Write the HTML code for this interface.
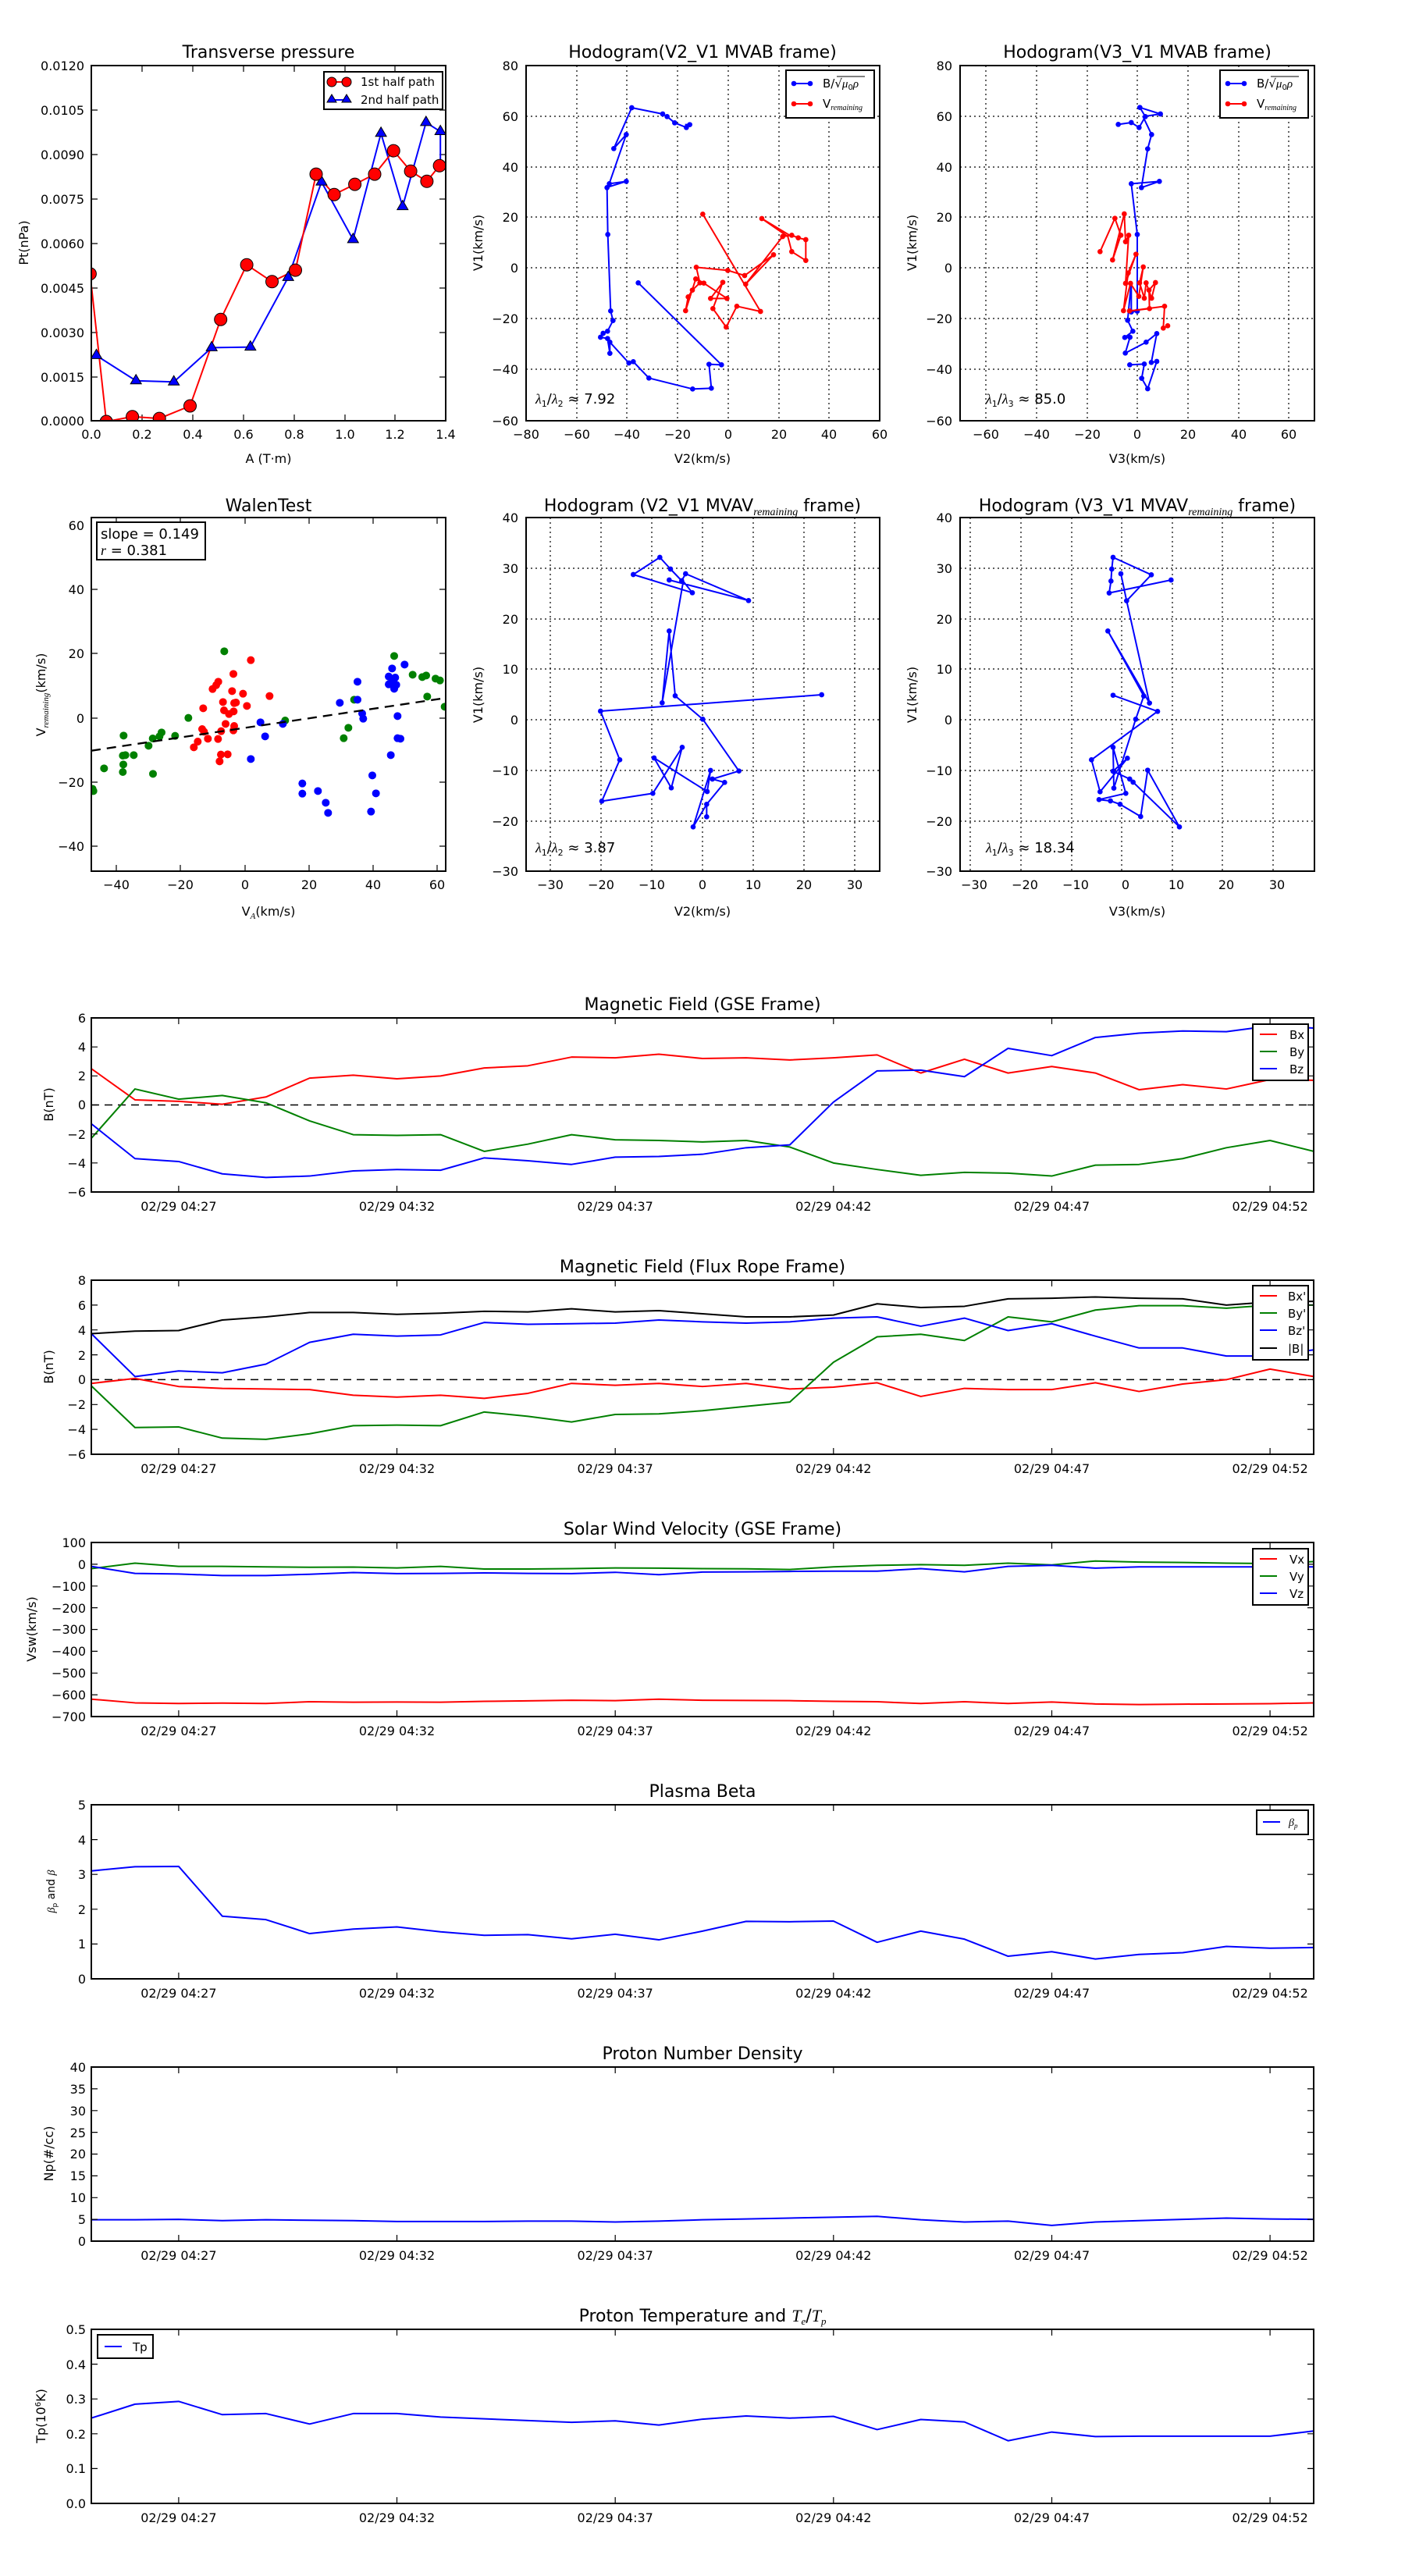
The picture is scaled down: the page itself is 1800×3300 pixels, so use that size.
<!DOCTYPE html>
<html><head><meta charset="utf-8"><style>
html,body{margin:0;padding:0;background:#fff;}
svg{display:block;font-family:"DejaVu Sans","Liberation Sans",sans-serif;}
.t{font-size:22px;text-anchor:middle;}
.k{font-size:16px;}
.r{text-anchor:end;}
.m{text-anchor:middle;}
.fr{fill:none;stroke:#000;stroke-width:2;}
.tk{stroke:#000;stroke-width:1.2;fill:none;}
.gr{stroke:#000;stroke-width:1.2;stroke-dasharray:2,4;fill:none;}
.ln{fill:none;stroke-width:2;vector-effect:non-scaling-stroke;stroke-linejoin:round;}
.lg{font-size:15px;}
</style></head><body>
<svg width="1800" height="3300" viewBox="0 0 1800 3300" xmlns="http://www.w3.org/2000/svg">
<rect width="1800" height="3300" fill="#fff"/>

<!-- ============ Transverse pressure ============ -->
<text class="t" x="344" y="74">Transverse pressure</text>
<path class="tk" d="M117 141h8M117 198h8M117 255h8M117 312h8M117 369h8M117 426h8M117 483h8M571 141h-8M571 198h-8M571 255h-8M571 312h-8M571 369h-8M571 426h-8M571 483h-8M182 84v8M247 84v8M312 84v8M377 84v8M442 84v8M506 84v8M182 539v-8M247 539v-8M312 539v-8M377 539v-8M442 539v-8M506 539v-8"/>
<g class="k r">
<text x="108" y="90">0.0120</text><text x="108" y="147">0.0105</text><text x="108" y="204">0.0090</text><text x="108" y="261">0.0075</text><text x="108" y="318">0.0060</text><text x="108" y="375">0.0045</text><text x="108" y="432">0.0030</text><text x="108" y="489">0.0015</text><text x="108" y="545">0.0000</text>
</g>
<g class="k m">
<text x="117" y="562">0.0</text><text x="182" y="562">0.2</text><text x="247" y="562">0.4</text><text x="312" y="562">0.6</text><text x="377" y="562">0.8</text><text x="442" y="562">1.0</text><text x="506" y="562">1.2</text><text x="571" y="562">1.4</text>
<text x="344" y="593">A (T·m)</text>
</g>
<text class="k m" transform="translate(36,311) rotate(-90)">Pt(nPa)</text>
<svg x="117" y="84" width="454" height="455" overflow="hidden">
<g transform="translate(-117,-84)">
<polyline fill="none" stroke="#00f" stroke-width="2" points="123.5,455.4 174.2,487.7 222.7,489.2 271.2,445.4 320.8,444.6 369.2,355.4 411.9,233.1 452.3,306.9 488.1,170.8 515.8,264.6 545.8,156.9 564.2,168.5 564.2,212.3"/>
<polyline fill="none" stroke="#f00" stroke-width="2" points="115.4,350.8 136.2,540 169.6,533.8 204.2,536.1 243.5,520 282.7,409.2 316.1,339.2 348.5,360.8 378.5,346.1 405,223.1 428.1,249.2 454.6,236.1 480,223.1 504.2,193.1 526.1,219.2 546.9,232.3 563.1,212.3"/>
<g fill="#00f" stroke="#000" stroke-width="1">
<path d="M123.5 447.4l7 12h-14z"/><path d="M174.2 479.7l7 12h-14z"/><path d="M222.7 481.2l7 12h-14z"/><path d="M271.2 437.4l7 12h-14z"/><path d="M320.8 436.6l7 12h-14z"/><path d="M369.2 347.4l7 12h-14z"/><path d="M411.9 225.1l7 12h-14z"/><path d="M452.3 298.9l7 12h-14z"/><path d="M488.1 162.8l7 12h-14z"/><path d="M515.8 256.6l7 12h-14z"/><path d="M545.8 148.9l7 12h-14z"/><path d="M564.2 160.5l7 12h-14z"/><path d="M564.2 204.3l7 12h-14z"/>
</g>
<g fill="#f00" stroke="#000" stroke-width="1">
<circle cx="115.4" cy="350.8" r="8"/><circle cx="136.2" cy="540" r="8"/><circle cx="169.6" cy="533.8" r="8"/><circle cx="204.2" cy="536.1" r="8"/><circle cx="243.5" cy="520" r="8"/><circle cx="282.7" cy="409.2" r="8"/><circle cx="316.1" cy="339.2" r="8"/><circle cx="348.5" cy="360.8" r="8"/><circle cx="378.5" cy="346.1" r="8"/><circle cx="405" cy="223.1" r="8"/><circle cx="428.1" cy="249.2" r="8"/><circle cx="454.6" cy="236.1" r="8"/><circle cx="480" cy="223.1" r="8"/><circle cx="504.2" cy="193.1" r="8"/><circle cx="526.1" cy="219.2" r="8"/><circle cx="546.9" cy="232.3" r="8"/><circle cx="563.1" cy="212.3" r="8"/>
</g>
</g>
</svg>
<rect class="fr" x="117" y="84" width="454" height="455"/>
<rect x="415" y="92" width="152" height="48" fill="#fff" stroke="#000" stroke-width="2"/>
<line x1="422" y1="105" x2="447" y2="105" stroke="#f00" stroke-width="2"/>
<circle cx="425" cy="105" r="6" fill="#f00" stroke="#000"/><circle cx="444" cy="105" r="6" fill="#f00" stroke="#000"/>
<line x1="422" y1="128" x2="447" y2="128" stroke="#00f" stroke-width="2"/>
<path d="M425 121l6 10h-12zM444 121l6 10h-12z" fill="#00f" stroke="#000"/>
<text class="lg" x="462" y="110">1st half path</text>
<text class="lg" x="462" y="133">2nd half path</text>

<!-- ============ Hodogram V2_V1 MVAB ============ -->
<text class="t" x="900" y="74">Hodogram(V2_V1 MVAB frame)</text>
<path class="gr" d="M739 84V539M803 84V539M868 84V539M933 84V539M998 84V539M1062 84V539M674 149H1127M674 214H1127M674 278H1127M674 343H1127M674 408H1127M674 473H1127"/>
<g class="k r"><text x="664" y="90">80</text><text x="664" y="155">60</text><text x="664" y="220">40</text><text x="664" y="284">20</text><text x="664" y="349">0</text><text x="664" y="414">−20</text><text x="664" y="479">−40</text><text x="664" y="545">−60</text></g>
<g class="k m"><text x="674" y="562">−80</text><text x="739" y="562">−60</text><text x="803" y="562">−40</text><text x="868" y="562">−20</text><text x="933" y="562">0</text><text x="998" y="562">20</text><text x="1062" y="562">40</text><text x="1127" y="562">60</text><text x="900" y="593">V2(km/s)</text></g>
<text class="k m" transform="translate(618,311) rotate(-90)">V1(km/s)</text>
<g transform="translate(676,83) scale(0.33333)">
<polyline fill="none" stroke="#00f" stroke-width="6" stroke-linejoin="round" points="425,838 745,1153 697,1151 706,1243 634,1246 466,1204 406,1141 389,1146 316,1066 316,1109 307,1052 280,1047 290,1032 307,1024 328,983 319,946 308,652 305,472 314,457 379,448 309,470 379,268 331,322 400,165 519,189 536,199 565,223 610,241 623,230 605,230"/>
<g fill="#00f"><circle cx="425" cy="838" r="10"/><circle cx="745" cy="1153" r="10"/><circle cx="697" cy="1151" r="10"/><circle cx="706" cy="1243" r="10"/><circle cx="634" cy="1246" r="10"/><circle cx="466" cy="1204" r="10"/><circle cx="406" cy="1141" r="10"/><circle cx="389" cy="1146" r="10"/><circle cx="316" cy="1066" r="10"/><circle cx="316" cy="1109" r="10"/><circle cx="307" cy="1052" r="10"/><circle cx="280" cy="1047" r="10"/><circle cx="290" cy="1032" r="10"/><circle cx="307" cy="1024" r="10"/><circle cx="328" cy="983" r="10"/><circle cx="319" cy="946" r="10"/><circle cx="308" cy="652" r="10"/><circle cx="305" cy="472" r="10"/><circle cx="314" cy="457" r="10"/><circle cx="379" cy="448" r="10"/><circle cx="379" cy="268" r="10"/><circle cx="331" cy="322" r="10"/><circle cx="400" cy="165" r="10"/><circle cx="519" cy="189" r="10"/><circle cx="536" cy="199" r="10"/><circle cx="565" cy="223" r="10"/><circle cx="610" cy="241" r="10"/><circle cx="623" cy="230" r="10"/></g>
<polyline fill="none" stroke="#f00" stroke-width="6" stroke-linejoin="round" points="673,574 895,948 804,928 763,1008 712,937 750,836 703,898 766,898 677,839 646,823 607,945 617,892 633,866 662,838 648,778 769,790 834,810 945,730 838,843 980,660 1015,655 1040,665 1069,672 1069,752 1015,718 1000,660 900,591 1015,660"/>
<g fill="#f00"><circle cx="673" cy="574" r="10"/><circle cx="895" cy="948" r="10"/><circle cx="804" cy="928" r="10"/><circle cx="763" cy="1008" r="10"/><circle cx="712" cy="937" r="10"/><circle cx="750" cy="836" r="10"/><circle cx="703" cy="898" r="10"/><circle cx="766" cy="898" r="10"/><circle cx="677" cy="839" r="10"/><circle cx="646" cy="823" r="10"/><circle cx="607" cy="945" r="10"/><circle cx="617" cy="892" r="10"/><circle cx="633" cy="866" r="10"/><circle cx="662" cy="838" r="10"/><circle cx="648" cy="778" r="10"/><circle cx="769" cy="790" r="10"/><circle cx="834" cy="810" r="10"/><circle cx="945" cy="730" r="10"/><circle cx="838" cy="843" r="10"/><circle cx="980" cy="660" r="10"/><circle cx="1015" cy="655" r="10"/><circle cx="1040" cy="665" r="10"/><circle cx="1069" cy="672" r="10"/><circle cx="1069" cy="752" r="10"/><circle cx="1015" cy="718" r="10"/><circle cx="900" cy="591" r="10"/></g>
</g>
<rect class="fr" x="674" y="84" width="453" height="455"/>
<rect x="1007" y="90" width="113" height="61" fill="#fff" stroke="#000" stroke-width="2"/>
<line x1="1017" y1="107" x2="1038" y2="107" stroke="#00f" stroke-width="2"/><circle cx="1017" cy="107" r="3.3" fill="#00f"/><circle cx="1038" cy="107" r="3.3" fill="#00f"/>
<line x1="1017" y1="133" x2="1038" y2="133" stroke="#f00" stroke-width="2"/><circle cx="1017" cy="133" r="3.3" fill="#f00"/><circle cx="1038" cy="133" r="3.3" fill="#f00"/>
<text class="lg" x="1054" y="112">B/√<tspan font-style="italic" font-family="Liberation Serif,serif">μ</tspan><tspan font-size="10" dy="3">0</tspan><tspan font-style="italic" font-family="Liberation Serif,serif" dy="-3">ρ</tspan></text>
<line x1="1072" y1="98" x2="1108" y2="98" stroke="#000" stroke-width="1"/>
<text class="lg" x="1054" y="138">V<tspan font-size="10" font-style="italic" font-family="Liberation Serif,serif" dy="3">remaining</tspan></text>
<text x="686" y="517" font-size="18"><tspan font-family="Liberation Serif,serif" font-style="italic">λ</tspan><tspan font-size="11" dy="4">1</tspan><tspan dy="-4">/</tspan><tspan font-family="Liberation Serif,serif" font-style="italic">λ</tspan><tspan font-size="11" dy="4">2</tspan><tspan dy="-4"> ≈ 7.92</tspan></text>

<!-- ============ Hodogram V3_V1 MVAB ============ -->
<text class="t" x="1457" y="74">Hodogram(V3_V1 MVAB frame)</text>
<path class="gr" d="M1263 84V539M1328 84V539M1393 84V539M1457 84V539M1522 84V539M1587 84V539M1651 84V539M1230 149H1684M1230 214H1684M1230 278H1684M1230 343H1684M1230 408H1684M1230 473H1684"/>
<g class="k r"><text x="1220" y="90">80</text><text x="1220" y="155">60</text><text x="1220" y="220">40</text><text x="1220" y="284">20</text><text x="1220" y="349">0</text><text x="1220" y="414">−20</text><text x="1220" y="479">−40</text><text x="1220" y="545">−60</text></g>
<g class="k m"><text x="1263" y="562">−60</text><text x="1328" y="562">−40</text><text x="1393" y="562">−20</text><text x="1457" y="562">0</text><text x="1522" y="562">20</text><text x="1587" y="562">40</text><text x="1651" y="562">60</text><text x="1457" y="593">V3(km/s)</text></g>
<text class="k m" transform="translate(1174,311) rotate(-90)">V1(km/s)</text>
<g transform="translate(1236,83) scale(0.33333)">
<polyline fill="none" stroke="#00f" stroke-width="6" stroke-linejoin="round" points="590,229 640,222 670,241 694,199 673,164 752,189 685,199 718,268 703,323 679,472 748,448 640,457 663,652 663,947 640,950 640,835 626,982 646,1024 615,1048 635,1047 617,1108 697,1066 738,1033 717,1144 738,1140 703,1245 680,1205 690,1150 634,1153"/>
<g fill="#00f"><circle cx="590" cy="229" r="10"/><circle cx="640" cy="222" r="10"/><circle cx="670" cy="241" r="10"/><circle cx="694" cy="199" r="10"/><circle cx="673" cy="164" r="10"/><circle cx="752" cy="189" r="10"/><circle cx="718" cy="268" r="10"/><circle cx="703" cy="323" r="10"/><circle cx="679" cy="472" r="10"/><circle cx="748" cy="448" r="10"/><circle cx="640" cy="457" r="10"/><circle cx="663" cy="652" r="10"/><circle cx="663" cy="947" r="10"/><circle cx="640" cy="950" r="10"/><circle cx="626" cy="982" r="10"/><circle cx="646" cy="1024" r="10"/><circle cx="615" cy="1048" r="10"/><circle cx="635" cy="1047" r="10"/><circle cx="617" cy="1108" r="10"/><circle cx="697" cy="1066" r="10"/><circle cx="738" cy="1033" r="10"/><circle cx="717" cy="1144" r="10"/><circle cx="738" cy="1140" r="10"/><circle cx="703" cy="1245" r="10"/><circle cx="680" cy="1205" r="10"/><circle cx="690" cy="1150" r="10"/><circle cx="634" cy="1153" r="10"/></g>
<polyline fill="none" stroke="#f00" stroke-width="6" stroke-linejoin="round" points="520,718 577,590 600,655 568,750 613,573 618,680 630,655 618,840 658,728 628,800 610,945 637,840 669,890 686,777 672,838 690,897 697,838 718,897 733,837 708,866 710,937 633,946 768,928 763,1012 780,1003"/>
<g fill="#f00"><circle cx="520" cy="718" r="10"/><circle cx="577" cy="590" r="10"/><circle cx="600" cy="655" r="10"/><circle cx="568" cy="750" r="10"/><circle cx="613" cy="573" r="10"/><circle cx="618" cy="680" r="10"/><circle cx="630" cy="655" r="10"/><circle cx="618" cy="840" r="10"/><circle cx="658" cy="728" r="10"/><circle cx="628" cy="800" r="10"/><circle cx="610" cy="945" r="10"/><circle cx="637" cy="840" r="10"/><circle cx="669" cy="890" r="10"/><circle cx="686" cy="777" r="10"/><circle cx="672" cy="838" r="10"/><circle cx="690" cy="897" r="10"/><circle cx="697" cy="838" r="10"/><circle cx="718" cy="897" r="10"/><circle cx="733" cy="837" r="10"/><circle cx="708" cy="866" r="10"/><circle cx="710" cy="937" r="10"/><circle cx="633" cy="946" r="10"/><circle cx="768" cy="928" r="10"/><circle cx="763" cy="1012" r="10"/><circle cx="780" cy="1003" r="10"/></g>
</g>
<rect class="fr" x="1230" y="84" width="454" height="455"/>
<rect x="1563" y="90" width="113" height="61" fill="#fff" stroke="#000" stroke-width="2"/>
<line x1="1573" y1="107" x2="1594" y2="107" stroke="#00f" stroke-width="2"/><circle cx="1573" cy="107" r="3.3" fill="#00f"/><circle cx="1594" cy="107" r="3.3" fill="#00f"/>
<line x1="1573" y1="133" x2="1594" y2="133" stroke="#f00" stroke-width="2"/><circle cx="1573" cy="133" r="3.3" fill="#f00"/><circle cx="1594" cy="133" r="3.3" fill="#f00"/>
<text class="lg" x="1610" y="112">B/√<tspan font-style="italic" font-family="Liberation Serif,serif">μ</tspan><tspan font-size="10" dy="3">0</tspan><tspan font-style="italic" font-family="Liberation Serif,serif" dy="-3">ρ</tspan></text>
<line x1="1628" y1="98" x2="1664" y2="98" stroke="#000" stroke-width="1"/>
<text class="lg" x="1610" y="138">V<tspan font-size="10" font-style="italic" font-family="Liberation Serif,serif" dy="3">remaining</tspan></text>
<text x="1263" y="517" font-size="18"><tspan font-family="Liberation Serif,serif" font-style="italic">λ</tspan><tspan font-size="11" dy="4">1</tspan><tspan dy="-4">/</tspan><tspan font-family="Liberation Serif,serif" font-style="italic">λ</tspan><tspan font-size="11" dy="4">3</tspan><tspan dy="-4"> ≈ 85.0</tspan></text>

<!-- ============ WalenTest ============ -->
<text class="t" x="344" y="655">WalenTest</text>
<path class="tk" d="M117 755h8M117 837h8M117 920h8M117 1002h8M117 1084h8M571 755h-8M571 837h-8M571 920h-8M571 1002h-8M571 1084h-8M149 663v8M231 663v8M314 663v8M396 663v8M478 663v8M560 663v8M149 1116v-8M231 1116v-8M314 1116v-8M396 1116v-8M478 1116v-8M560 1116v-8"/>
<g class="k r"><text x="108" y="679">60</text><text x="108" y="761">40</text><text x="108" y="843">20</text><text x="108" y="926">0</text><text x="108" y="1008">−20</text><text x="108" y="1090">−40</text></g>
<g class="k m"><text x="149" y="1139">−40</text><text x="231" y="1139">−20</text><text x="314" y="1139">0</text><text x="396" y="1139">20</text><text x="478" y="1139">40</text><text x="560" y="1139">60</text>
<text x="344" y="1173">V<tspan font-size="11" font-style="italic" font-family="Liberation Serif,serif" dy="4">A</tspan><tspan dy="-4">(km/s)</tspan></text></g>
<text class="k m" transform="translate(58,890) rotate(-90)">V<tspan font-size="11" font-style="italic" font-family="Liberation Serif,serif" dy="4">remaining</tspan><tspan dy="-4">(km/s)</tspan></text>
<svg x="117" y="663" width="454" height="453" overflow="hidden">
<g transform="translate(0,1) scale(0.33333)">
<g fill="#008000"><circle cx="8" cy="1048" r="15"/><circle cx="5" cy="1040" r="15"/><circle cx="49" cy="961" r="15"/><circle cx="121" cy="975" r="15"/><circle cx="123" cy="946" r="15"/><circle cx="121" cy="912" r="15"/><circle cx="131" cy="910" r="15"/><circle cx="163" cy="910" r="15"/><circle cx="124" cy="835" r="15"/><circle cx="220" cy="874" r="15"/><circle cx="236" cy="846" r="15"/><circle cx="262" cy="838" r="15"/><circle cx="270" cy="823" r="15"/><circle cx="237" cy="982" r="15"/><circle cx="322" cy="836" r="15"/><circle cx="373" cy="767" r="15"/><circle cx="511" cy="511" r="15"/><circle cx="745" cy="777" r="15"/><circle cx="970" cy="845" r="15"/><circle cx="988" cy="805" r="15"/><circle cx="1010" cy="697" r="15"/><circle cx="1164" cy="529" r="15"/><circle cx="1235" cy="601" r="15"/><circle cx="1272" cy="610" r="15"/><circle cx="1287" cy="604" r="15"/><circle cx="1323" cy="616" r="15"/><circle cx="1340" cy="623" r="15"/><circle cx="1291" cy="685" r="15"/><circle cx="1358" cy="724" r="15"/></g>
<g fill="#f00"><circle cx="613" cy="545" r="15"/><circle cx="546" cy="598" r="15"/><circle cx="488" cy="628" r="15"/><circle cx="480" cy="641" r="15"/><circle cx="466" cy="656" r="15"/><circle cx="541" cy="664" r="15"/><circle cx="583" cy="674" r="15"/><circle cx="685" cy="683" r="15"/><circle cx="430" cy="730" r="15"/><circle cx="506" cy="706" r="15"/><circle cx="510" cy="738" r="15"/><circle cx="549" cy="710" r="15"/><circle cx="556" cy="708" r="15"/><circle cx="598" cy="721" r="15"/><circle cx="529" cy="752" r="15"/><circle cx="547" cy="742" r="15"/><circle cx="516" cy="790" r="15"/><circle cx="426" cy="810" r="15"/><circle cx="433" cy="820" r="15"/><circle cx="549" cy="798" r="15"/><circle cx="546" cy="815" r="15"/><circle cx="499" cy="818" r="15"/><circle cx="448" cy="847" r="15"/><circle cx="487" cy="848" r="15"/><circle cx="409" cy="858" r="15"/><circle cx="394" cy="880" r="15"/><circle cx="498" cy="908" r="15"/><circle cx="524" cy="907" r="15"/><circle cx="493" cy="934" r="15"/></g>
<g fill="#00f"><circle cx="1204" cy="562" r="15"/><circle cx="1156" cy="577" r="15"/><circle cx="1143" cy="608" r="15"/><circle cx="1168" cy="612" r="15"/><circle cx="1156" cy="628" r="15"/><circle cx="1143" cy="638" r="15"/><circle cx="1172" cy="640" r="15"/><circle cx="1164" cy="655" r="15"/><circle cx="1023" cy="628" r="15"/><circle cx="1023" cy="697" r="15"/><circle cx="955" cy="709" r="15"/><circle cx="1041" cy="750" r="15"/><circle cx="1045" cy="770" r="15"/><circle cx="1177" cy="760" r="15"/><circle cx="1177" cy="845" r="15"/><circle cx="1188" cy="847" r="15"/><circle cx="1151" cy="910" r="15"/><circle cx="650" cy="784" r="15"/><circle cx="736" cy="790" r="15"/><circle cx="668" cy="838" r="15"/><circle cx="613" cy="925" r="15"/><circle cx="811" cy="1019" r="15"/><circle cx="811" cy="1058" r="15"/><circle cx="871" cy="1048" r="15"/><circle cx="901" cy="1093" r="15"/><circle cx="910" cy="1132" r="15"/><circle cx="1080" cy="988" r="15"/><circle cx="1094" cy="1057" r="15"/><circle cx="1075" cy="1127" r="15"/></g>
<line x1="0" y1="893" x2="1365" y2="690" stroke="#000" stroke-width="7" stroke-dasharray="36,24"/>
</g>
</svg>
<rect class="fr" x="117" y="663" width="454" height="453"/>
<rect x="124" y="669" width="139" height="48" fill="#fff" stroke="#000" stroke-width="2"/>
<text x="129" y="690" font-size="18">slope = 0.149</text>
<text x="129" y="711" font-size="18"><tspan font-style="italic" font-family="Liberation Serif,serif">r</tspan> = 0.381</text>

<!-- ============ Hodogram V2_V1 MVAV ============ -->
<text class="t" x="900" y="655">Hodogram (V2_V1 MVAV<tspan font-size="14" font-style="italic" font-family="Liberation Serif,serif" dy="5">remaining</tspan><tspan dy="-5"> frame)</tspan></text>
<path class="gr" d="M705 663V1116M770 663V1116M835 663V1116M900 663V1116M965 663V1116M1030 663V1116M1095 663V1116M674 728H1127M674 793H1127M674 857H1127M674 922H1127M674 987H1127M674 1052H1127"/>
<g class="k r"><text x="664" y="669">40</text><text x="664" y="734">30</text><text x="664" y="799">20</text><text x="664" y="863">10</text><text x="664" y="928">0</text><text x="664" y="993">−10</text><text x="664" y="1058">−20</text><text x="664" y="1122">−30</text></g>
<g class="k m"><text x="705" y="1139">−30</text><text x="770" y="1139">−20</text><text x="835" y="1139">−10</text><text x="900" y="1139">0</text><text x="965" y="1139">10</text><text x="1030" y="1139">20</text><text x="1095" y="1139">30</text><text x="900" y="1173">V2(km/s)</text></g>
<text class="k m" transform="translate(618,890) rotate(-90)">V1(km/s)</text>
<g transform="translate(676,664) scale(0.33333)">
<polyline fill="none" stroke="#00f" stroke-width="6" stroke-linejoin="round" points="1130,678 280,741 354,928 285,1087 481,1057 594,880 552,1036 486,921 690,1050 703,969 636,1186 688,1099 688,1147 688,1099 757,1015 710,1002 812,971 673,772 567,682 544,433 517,709 598,242 633,286 406,216 508,150 549,195 592,240 607,213 849,316 544,237"/>
<g fill="#00f"><circle cx="1130" cy="678" r="10"/><circle cx="280" cy="741" r="10"/><circle cx="354" cy="928" r="10"/><circle cx="285" cy="1087" r="10"/><circle cx="481" cy="1057" r="10"/><circle cx="594" cy="880" r="10"/><circle cx="552" cy="1036" r="10"/><circle cx="486" cy="921" r="10"/><circle cx="690" cy="1050" r="10"/><circle cx="703" cy="969" r="10"/><circle cx="636" cy="1186" r="10"/><circle cx="688" cy="1099" r="10"/><circle cx="688" cy="1147" r="10"/><circle cx="757" cy="1015" r="10"/><circle cx="710" cy="1002" r="10"/><circle cx="812" cy="971" r="10"/><circle cx="673" cy="772" r="10"/><circle cx="567" cy="682" r="10"/><circle cx="544" cy="433" r="10"/><circle cx="517" cy="709" r="10"/><circle cx="633" cy="286" r="10"/><circle cx="406" cy="216" r="10"/><circle cx="508" cy="150" r="10"/><circle cx="549" cy="195" r="10"/><circle cx="592" cy="240" r="10"/><circle cx="607" cy="213" r="10"/><circle cx="849" cy="316" r="10"/><circle cx="544" cy="237" r="10"/></g>
</g>
<rect class="fr" x="674" y="663" width="453" height="453"/>
<text x="686" y="1092" font-size="18"><tspan font-family="Liberation Serif,serif" font-style="italic">λ</tspan><tspan font-size="11" dy="4">1</tspan><tspan dy="-4">/</tspan><tspan font-family="Liberation Serif,serif" font-style="italic">λ</tspan><tspan font-size="11" dy="4">2</tspan><tspan dy="-4"> ≈ 3.87</tspan></text>

<!-- ============ Hodogram V3_V1 MVAV ============ -->
<text class="t" x="1457" y="655">Hodogram (V3_V1 MVAV<tspan font-size="14" font-style="italic" font-family="Liberation Serif,serif" dy="5">remaining</tspan><tspan dy="-5"> frame)</tspan></text>
<path class="gr" d="M1243 663V1116M1308 663V1116M1373 663V1116M1437 663V1116M1502 663V1116M1566 663V1116M1631 663V1116M1230 728H1684M1230 793H1684M1230 857H1684M1230 922H1684M1230 987H1684M1230 1052H1684"/>
<g class="k r"><text x="1220" y="669">40</text><text x="1220" y="734">30</text><text x="1220" y="799">20</text><text x="1220" y="863">10</text><text x="1220" y="928">0</text><text x="1220" y="993">−10</text><text x="1220" y="1058">−20</text><text x="1220" y="1122">−30</text></g>
<g class="k m"><text x="1248" y="1139">−30</text><text x="1313" y="1139">−20</text><text x="1378" y="1139">−10</text><text x="1442" y="1139">0</text><text x="1507" y="1139">10</text><text x="1571" y="1139">20</text><text x="1636" y="1139">30</text><text x="1457" y="1173">V3(km/s)</text></g>
<text class="k m" transform="translate(1174,890) rotate(-90)">V1(km/s)</text>
<g transform="translate(1236,664) scale(0.33333)">
<polyline fill="none" stroke="#00f" stroke-width="6" stroke-linejoin="round" points="793,237 555,287 562,241 565,195 570,150 717,217 622,317 600,213 622,317 710,710 550,433 688,683 657,772 573,1037 570,880 619,1057 516,1081 560,1086 597,1099 676,1146 703,968 825,1186 647,1014 634,1002 570,972 625,922 520,1051 487,928 741,742 570,680"/>
<g fill="#00f"><circle cx="793" cy="237" r="10"/><circle cx="555" cy="287" r="10"/><circle cx="562" cy="241" r="10"/><circle cx="565" cy="195" r="10"/><circle cx="570" cy="150" r="10"/><circle cx="717" cy="217" r="10"/><circle cx="622" cy="317" r="10"/><circle cx="600" cy="213" r="10"/><circle cx="710" cy="710" r="10"/><circle cx="550" cy="433" r="10"/><circle cx="688" cy="683" r="10"/><circle cx="657" cy="772" r="10"/><circle cx="573" cy="1037" r="10"/><circle cx="570" cy="880" r="10"/><circle cx="619" cy="1057" r="10"/><circle cx="516" cy="1081" r="10"/><circle cx="560" cy="1086" r="10"/><circle cx="597" cy="1099" r="10"/><circle cx="676" cy="1146" r="10"/><circle cx="703" cy="968" r="10"/><circle cx="825" cy="1186" r="10"/><circle cx="647" cy="1014" r="10"/><circle cx="634" cy="1002" r="10"/><circle cx="570" cy="972" r="10"/><circle cx="625" cy="922" r="10"/><circle cx="520" cy="1051" r="10"/><circle cx="487" cy="928" r="10"/><circle cx="741" cy="742" r="10"/><circle cx="570" cy="680" r="10"/></g>
</g>
<rect class="fr" x="1230" y="663" width="454" height="453"/>
<text x="1263" y="1092" font-size="18"><tspan font-family="Liberation Serif,serif" font-style="italic">λ</tspan><tspan font-size="11" dy="4">1</tspan><tspan dy="-4">/</tspan><tspan font-family="Liberation Serif,serif" font-style="italic">λ</tspan><tspan font-size="11" dy="4">3</tspan><tspan dy="-4"> ≈ 18.34</tspan></text>

<!-- ============ Time series panels ============ -->
<!-- P1 -->
<g transform="translate(0,1304)">
<text class="t" x="900" y="-10">Magnetic Field (GSE Frame)</text>
<line x1="117" y1="111.5" x2="1683" y2="111.5" stroke="#000" stroke-width="1.5" stroke-dasharray="10,7"/>
<svg x="117" y="0" width="1566" height="223" viewBox="0 -6 28 12" preserveAspectRatio="none">
<polyline class="ln" stroke="#f00" points="0,-2.5 1,-0.35 2,-0.25 3,-0.05 4,-0.55 5,-1.85 6,-2.05 7,-1.8 8,-2 9,-2.55 10,-2.7 11,-3.3 12,-3.25 13,-3.5 14,-3.2 15,-3.25 16,-3.1 17,-3.25 18,-3.45 19,-2.2 20,-3.15 21,-2.2 22,-2.65 23,-2.2 24,-1.05 25,-1.4 26,-1.1 27,-1.75 28,-1.7"/>
<polyline class="ln" stroke="#008000" points="0,2.3 1,-1.1 2,-0.4 3,-0.65 4,-0.15 5,1.1 6,2.05 7,2.1 8,2.05 9,3.2 10,2.7 11,2.05 12,2.4 13,2.45 14,2.55 15,2.45 16,2.9 17,4 18,4.45 19,4.85 20,4.65 21,4.7 22,4.9 23,4.15 24,4.1 25,3.7 26,2.95 27,2.45 28,3.2"/>
<polyline class="ln" stroke="#00f" points="0,1.3 1,3.7 2,3.9 3,4.75 4,5 5,4.9 6,4.55 7,4.45 8,4.5 9,3.65 10,3.85 11,4.1 12,3.6 13,3.55 14,3.4 15,2.95 16,2.75 17,-0.2 18,-2.35 19,-2.4 20,-1.95 21,-3.9 22,-3.4 23,-4.65 24,-4.95 25,-5.1 26,-5.05 27,-5.45 28,-5.3"/>
</svg>
<rect class="fr" x="117" y="0" width="1566" height="223"/>
<path class="tk" d="M117 37.2h8M117 74.3h8M117 111.5h8M117 148.7h8M117 185.8h8M1683 37.2h-8M1683 74.3h-8M1683 111.5h-8M1683 148.7h-8M1683 185.8h-8M228.9 0v8M508.5 0v8M788.2 0v8M1067.8 0v8M1347.5 0v8M1627.1 0v8M228.9 223v-8M508.5 223v-8M788.2 223v-8M1067.8 223v-8M1347.5 223v-8M1627.1 223v-8"/>
<g class="k r"><text x="110" y="6">6</text><text x="110" y="43">4</text><text x="110" y="80">2</text><text x="110" y="117">0</text><text x="110" y="155">−2</text><text x="110" y="192">−4</text><text x="110" y="229">−6</text></g>
<g class="k m"><text x="228.9" y="247">02/29 04:27</text><text x="508.5" y="247">02/29 04:32</text><text x="788.2" y="247">02/29 04:37</text><text x="1067.8" y="247">02/29 04:42</text><text x="1347.5" y="247">02/29 04:47</text><text x="1627.1" y="247">02/29 04:52</text></g>
<text class="k m" transform="translate(68,111) rotate(-90)">B(nT)</text>
<rect x="1605" y="8" width="71" height="72" fill="#fff" stroke="#000" stroke-width="2"/>
<line x1="1614" y1="21" x2="1636" y2="21" stroke="#f00" stroke-width="2"/><text class="lg" x="1652" y="27">Bx</text>
<line x1="1614" y1="43" x2="1636" y2="43" stroke="#008000" stroke-width="2"/><text class="lg" x="1652" y="49">By</text>
<line x1="1614" y1="65" x2="1636" y2="65" stroke="#00f" stroke-width="2"/><text class="lg" x="1652" y="71">Bz</text>
</g>

<!-- P2 -->
<g transform="translate(0,1640)">
<text class="t" x="900" y="-10">Magnetic Field (Flux Rope Frame)</text>
<line x1="117" y1="127.4" x2="1683" y2="127.4" stroke="#000" stroke-width="1.5" stroke-dasharray="10,7"/>
<svg x="117" y="0" width="1566" height="223" viewBox="0 -8 28 14" preserveAspectRatio="none">
<polyline class="ln" stroke="#f00" points="0,0.3 1,-0.1 2,0.55 3,0.7 4,0.75 5,0.8 6,1.25 7,1.4 8,1.25 9,1.5 10,1.1 11,0.3 12,0.45 13,0.3 14,0.55 15,0.3 16,0.75 17,0.6 18,0.25 19,1.35 20,0.7 21,0.8 22,0.8 23,0.25 24,0.95 25,0.35 26,0 27,-0.85 28,-0.25"/>
<polyline class="ln" stroke="#008000" points="0,0.5 1,3.85 2,3.8 3,4.7 4,4.8 5,4.35 6,3.7 7,3.65 8,3.7 9,2.6 10,2.95 11,3.4 12,2.8 13,2.75 14,2.5 15,2.15 16,1.8 17,-1.4 18,-3.45 19,-3.65 20,-3.15 21,-5.05 22,-4.65 23,-5.6 24,-5.95 25,-5.95 26,-5.75 27,-6 28,-6"/>
<polyline class="ln" stroke="#00f" points="0,-3.7 1,-0.25 2,-0.7 3,-0.55 4,-1.25 5,-3 6,-3.65 7,-3.5 8,-3.6 9,-4.6 10,-4.45 11,-4.5 12,-4.55 13,-4.8 14,-4.65 15,-4.55 16,-4.65 17,-4.95 18,-5.05 19,-4.3 20,-4.95 21,-3.95 22,-4.5 23,-3.5 24,-2.55 25,-2.55 26,-1.9 27,-1.9 28,-2.4"/>
<polyline class="ln" stroke="#000" points="0,-3.7 1,-3.9 2,-3.95 3,-4.8 4,-5.05 5,-5.4 6,-5.4 7,-5.25 8,-5.35 9,-5.5 10,-5.45 11,-5.7 12,-5.45 13,-5.55 14,-5.3 15,-5.05 16,-5.05 17,-5.2 18,-6.1 19,-5.8 20,-5.9 21,-6.5 22,-6.55 23,-6.65 24,-6.55 25,-6.5 26,-6 27,-6.25 28,-6.3"/>
</svg>
<rect class="fr" x="117" y="0" width="1566" height="223"/>
<path class="tk" d="M117 31.9h8M117 63.7h8M117 95.6h8M117 127.4h8M117 159.3h8M117 191.1h8M1683 31.9h-8M1683 63.7h-8M1683 95.6h-8M1683 127.4h-8M1683 159.3h-8M1683 191.1h-8M228.9 0v8M508.5 0v8M788.2 0v8M1067.8 0v8M1347.5 0v8M1627.1 0v8M228.9 223v-8M508.5 223v-8M788.2 223v-8M1067.8 223v-8M1347.5 223v-8M1627.1 223v-8"/>
<g class="k r"><text x="110" y="6">8</text><text x="110" y="38">6</text><text x="110" y="70">4</text><text x="110" y="102">2</text><text x="110" y="133">0</text><text x="110" y="165">−2</text><text x="110" y="197">−4</text><text x="110" y="229">−6</text></g>
<g class="k m"><text x="228.9" y="247">02/29 04:27</text><text x="508.5" y="247">02/29 04:32</text><text x="788.2" y="247">02/29 04:37</text><text x="1067.8" y="247">02/29 04:42</text><text x="1347.5" y="247">02/29 04:47</text><text x="1627.1" y="247">02/29 04:52</text></g>
<text class="k m" transform="translate(68,111) rotate(-90)">B(nT)</text>
<rect x="1605" y="7" width="71" height="95" fill="#fff" stroke="#000" stroke-width="2"/>
<line x1="1614" y1="20" x2="1636" y2="20" stroke="#f00" stroke-width="2"/><text class="lg" x="1650" y="26">Bx'</text>
<line x1="1614" y1="42" x2="1636" y2="42" stroke="#008000" stroke-width="2"/><text class="lg" x="1650" y="48">By'</text>
<line x1="1614" y1="64" x2="1636" y2="64" stroke="#00f" stroke-width="2"/><text class="lg" x="1650" y="70">Bz'</text>
<line x1="1614" y1="87" x2="1636" y2="87" stroke="#000" stroke-width="2"/><text class="lg" x="1650" y="93">|B|</text>
</g>

<!-- P3 -->
<g transform="translate(0,1976)">
<text class="t" x="900" y="-10">Solar Wind Velocity (GSE Frame)</text>
<svg x="117" y="0" width="1566" height="223" viewBox="0 -100 28 800" preserveAspectRatio="none">
<polyline class="ln" stroke="#f00" points="0,620 1,637 2,640 3,638 4,640 5,632 6,634 7,633 8,634 9,630 10,628 11,625 12,627 13,620 14,625 15,626 16,627 17,630 18,632 19,640 20,632 21,640 22,633 23,642 24,645 25,643 26,642 27,641 28,637"/>
<polyline class="ln" stroke="#008000" points="0,20 1,-5 2,10 3,10 4,12 5,14 6,13 7,17 8,10 9,22 10,22 11,20 12,17 13,18 14,20 15,21 16,24 17,12 18,5 19,2 20,5 21,-5 22,3 23,-15 24,-10 25,-8 26,-5 27,-3 28,-12"/>
<polyline class="ln" stroke="#00f" points="0,10 1,42 2,45 3,52 4,52 5,46 6,38 7,43 8,42 9,40 10,42 11,43 12,37 13,48 14,36 15,35 16,33 17,32 18,32 19,20 20,35 21,10 22,5 23,18 24,12 25,12 26,12 27,12 28,12"/>
</svg>
<rect class="fr" x="117" y="0" width="1566" height="223"/>
<path class="tk" d="M117 27.9h8M117 55.8h8M117 83.6h8M117 111.5h8M117 139.4h8M117 167.3h8M117 195.1h8M1683 27.9h-8M1683 55.8h-8M1683 83.6h-8M1683 111.5h-8M1683 139.4h-8M1683 167.3h-8M1683 195.1h-8M228.9 0v8M508.5 0v8M788.2 0v8M1067.8 0v8M1347.5 0v8M1627.1 0v8M228.9 223v-8M508.5 223v-8M788.2 223v-8M1067.8 223v-8M1347.5 223v-8M1627.1 223v-8"/>
<g class="k r"><text x="110" y="6">100</text><text x="110" y="34">0</text><text x="110" y="62">−100</text><text x="110" y="90">−200</text><text x="110" y="117">−300</text><text x="110" y="145">−400</text><text x="110" y="173">−500</text><text x="110" y="201">−600</text><text x="110" y="229">−700</text></g>
<g class="k m"><text x="228.9" y="247">02/29 04:27</text><text x="508.5" y="247">02/29 04:32</text><text x="788.2" y="247">02/29 04:37</text><text x="1067.8" y="247">02/29 04:42</text><text x="1347.5" y="247">02/29 04:47</text><text x="1627.1" y="247">02/29 04:52</text></g>
<text class="k m" transform="translate(46,111) rotate(-90)">Vsw(km/s)</text>
<rect x="1605" y="8" width="71" height="72" fill="#fff" stroke="#000" stroke-width="2"/>
<line x1="1614" y1="21" x2="1636" y2="21" stroke="#f00" stroke-width="2"/><text class="lg" x="1652" y="27">Vx</text>
<line x1="1614" y1="43" x2="1636" y2="43" stroke="#008000" stroke-width="2"/><text class="lg" x="1652" y="49">Vy</text>
<line x1="1614" y1="65" x2="1636" y2="65" stroke="#00f" stroke-width="2"/><text class="lg" x="1652" y="71">Vz</text>
</g>

<!-- P4 -->
<g transform="translate(0,2312)">
<text class="t" x="900" y="-10">Plasma Beta</text>
<svg x="117" y="0" width="1566" height="223" viewBox="0 -5 28 5" preserveAspectRatio="none">
<polyline class="ln" stroke="#00f" points="0,-3.1 1,-3.22 2,-3.23 3,-1.8 4,-1.7 5,-1.3 6,-1.43 7,-1.49 8,-1.35 9,-1.25 10,-1.27 11,-1.15 12,-1.28 13,-1.12 14,-1.37 15,-1.65 16,-1.64 17,-1.66 18,-1.05 19,-1.37 20,-1.14 21,-0.65 22,-0.78 23,-0.57 24,-0.7 25,-0.75 26,-0.93 27,-0.88 28,-0.9"/>
</svg>
<rect class="fr" x="117" y="0" width="1566" height="223"/>
<path class="tk" d="M117 44.6h8M117 89.2h8M117 133.8h8M117 178.4h8M1683 44.6h-8M1683 89.2h-8M1683 133.8h-8M1683 178.4h-8M228.9 0v8M508.5 0v8M788.2 0v8M1067.8 0v8M1347.5 0v8M1627.1 0v8M228.9 223v-8M508.5 223v-8M788.2 223v-8M1067.8 223v-8M1347.5 223v-8M1627.1 223v-8"/>
<g class="k r"><text x="110" y="6">5</text><text x="110" y="51">4</text><text x="110" y="95">3</text><text x="110" y="140">2</text><text x="110" y="184">1</text><text x="110" y="229">0</text></g>
<g class="k m"><text x="228.9" y="247">02/29 04:27</text><text x="508.5" y="247">02/29 04:32</text><text x="788.2" y="247">02/29 04:37</text><text x="1067.8" y="247">02/29 04:42</text><text x="1347.5" y="247">02/29 04:47</text><text x="1627.1" y="247">02/29 04:52</text></g>
<text class="m" font-size="14" transform="translate(70,111) rotate(-90)"><tspan font-style="italic" font-family="Liberation Serif,serif">β</tspan><tspan font-size="9" dy="3">p</tspan><tspan dy="-3"> and </tspan><tspan font-style="italic" font-family="Liberation Serif,serif">β</tspan></text>
<rect x="1610" y="7" width="66" height="31" fill="#fff" stroke="#000" stroke-width="2"/>
<line x1="1618" y1="22" x2="1640" y2="22" stroke="#00f" stroke-width="2"/>
<text x="1651" y="27" font-size="14" font-style="italic" font-family="Liberation Serif,serif">β<tspan font-size="9" dy="3">p</tspan></text>
</g>

<!-- P5 -->
<g transform="translate(0,2648)">
<text class="t" x="900" y="-10">Proton Number Density</text>
<svg x="117" y="0" width="1566" height="223" viewBox="0 -40 28 40" preserveAspectRatio="none">
<polyline class="ln" stroke="#00f" points="0,-4.9 1,-4.9 2,-5 3,-4.7 4,-4.9 5,-4.8 6,-4.7 7,-4.5 8,-4.5 9,-4.5 10,-4.6 11,-4.6 12,-4.4 13,-4.6 14,-4.9 15,-5.1 16,-5.3 17,-5.5 18,-5.7 19,-4.9 20,-4.4 21,-4.6 22,-3.6 23,-4.4 24,-4.7 25,-5 26,-5.3 27,-5.1 28,-5"/>
</svg>
<rect class="fr" x="117" y="0" width="1566" height="223"/>
<path class="tk" d="M117 27.9h8M117 55.8h8M117 83.6h8M117 111.5h8M117 139.4h8M117 167.3h8M117 195.1h8M1683 27.9h-8M1683 55.8h-8M1683 83.6h-8M1683 111.5h-8M1683 139.4h-8M1683 167.3h-8M1683 195.1h-8M228.9 0v8M508.5 0v8M788.2 0v8M1067.8 0v8M1347.5 0v8M1627.1 0v8M228.9 223v-8M508.5 223v-8M788.2 223v-8M1067.8 223v-8M1347.5 223v-8M1627.1 223v-8"/>
<g class="k r"><text x="110" y="6">40</text><text x="110" y="34">35</text><text x="110" y="62">30</text><text x="110" y="90">25</text><text x="110" y="117">20</text><text x="110" y="145">15</text><text x="110" y="173">10</text><text x="110" y="201">5</text><text x="110" y="229">0</text></g>
<g class="k m"><text x="228.9" y="247">02/29 04:27</text><text x="508.5" y="247">02/29 04:32</text><text x="788.2" y="247">02/29 04:37</text><text x="1067.8" y="247">02/29 04:42</text><text x="1347.5" y="247">02/29 04:47</text><text x="1627.1" y="247">02/29 04:52</text></g>
<text class="k m" transform="translate(68,111) rotate(-90)">Np(#/cc)</text>
</g>

<!-- P6 -->
<g transform="translate(0,2984)">
<text class="t" x="900" y="-10">Proton Temperature and <tspan font-style="italic" font-family="Liberation Serif,serif">T</tspan><tspan font-size="13" font-style="italic" font-family="Liberation Serif,serif" dy="4">e</tspan><tspan dy="-4">/</tspan><tspan font-style="italic" font-family="Liberation Serif,serif">T</tspan><tspan font-size="13" font-style="italic" font-family="Liberation Serif,serif" dy="4">p</tspan></text>
<svg x="117" y="0" width="1566" height="223" viewBox="0 -0.5 28 0.5" preserveAspectRatio="none">
<polyline class="ln" stroke="#00f" points="0,-0.245 1,-0.285 2,-0.293 3,-0.255 4,-0.258 5,-0.228 6,-0.258 7,-0.258 8,-0.248 9,-0.243 10,-0.238 11,-0.233 12,-0.237 13,-0.225 14,-0.242 15,-0.251 16,-0.245 17,-0.25 18,-0.212 19,-0.241 20,-0.234 21,-0.18 22,-0.205 23,-0.192 24,-0.193 25,-0.193 26,-0.193 27,-0.193 28,-0.208"/>
</svg>
<rect class="fr" x="117" y="0" width="1566" height="223"/>
<path class="tk" d="M117 44.6h8M117 89.2h8M117 133.8h8M117 178.4h8M1683 44.6h-8M1683 89.2h-8M1683 133.8h-8M1683 178.4h-8M228.9 0v8M508.5 0v8M788.2 0v8M1067.8 0v8M1347.5 0v8M1627.1 0v8M228.9 223v-8M508.5 223v-8M788.2 223v-8M1067.8 223v-8M1347.5 223v-8M1627.1 223v-8"/>
<g class="k r"><text x="110" y="6">0.5</text><text x="110" y="51">0.4</text><text x="110" y="95">0.3</text><text x="110" y="140">0.2</text><text x="110" y="184">0.1</text><text x="110" y="229">0.0</text></g>
<g class="k m"><text x="228.9" y="247">02/29 04:27</text><text x="508.5" y="247">02/29 04:32</text><text x="788.2" y="247">02/29 04:37</text><text x="1067.8" y="247">02/29 04:42</text><text x="1347.5" y="247">02/29 04:47</text><text x="1627.1" y="247">02/29 04:52</text></g>
<text class="k m" transform="translate(58,111) rotate(-90)">Tp(10<tspan font-size="10" dy="-6">6</tspan><tspan dy="6">K)</tspan></text>
<rect x="125" y="7" width="71" height="30" fill="#fff" stroke="#000" stroke-width="2"/>
<line x1="134" y1="22" x2="156" y2="22" stroke="#00f" stroke-width="2"/><text class="lg" x="170" y="28">Tp</text>
</g>
</svg>
</body></html>
